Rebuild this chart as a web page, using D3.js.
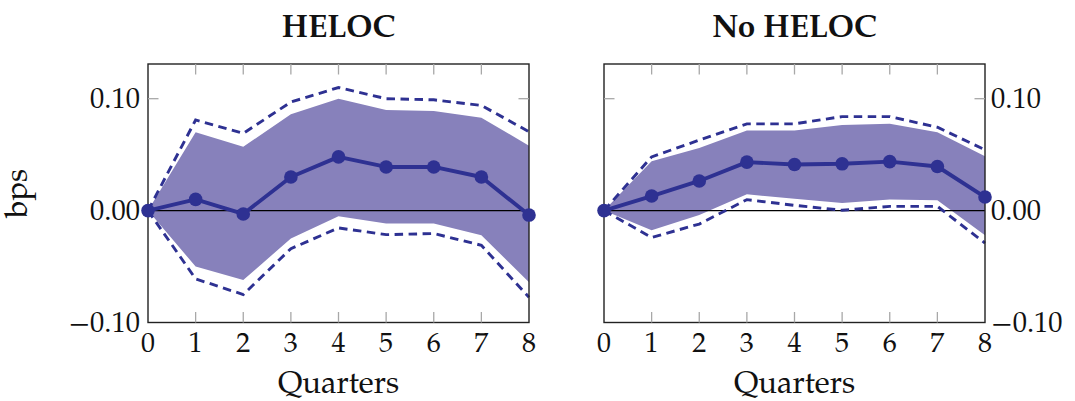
<!DOCTYPE html>
<html>
<head>
<meta charset="utf-8">
<script src="https://cdn.jsdelivr.net/npm/d3@7"></script>
<style>
    body { margin: 0; background: #fff; }
    svg { display: block; }
    text { font-family: "TeX Gyre Pagella", "Palatino Linotype", "Book Antiqua", Palatino, "Liberation Serif", serif; fill: #111; }
</style>
</head>
<body>
<div id="chart"></div>
<script>
// quarters after the shock
const quarters = [0, 1, 2, 3, 4, 5, 6, 7, 8];
const yTicks = [-0.10, 0.00, 0.10];

// HELOC panel
const helocIrf = [0, 0.010, -0.003, 0.030, 0.048, 0.039, 0.039, 0.030, -0.004];
const helocBandHi = [0, 0.070, 0.057, 0.086, 0.100, 0.090, 0.089, 0.083, 0.058];
const helocBandLo = [0, -0.050, -0.062, -0.025, -0.005, -0.0115, -0.0115, -0.022, -0.064];
const helocCiHi = [0, 0.081, 0.069, 0.097, 0.110, 0.100, 0.099, 0.094, 0.0705];
const helocCiLo = [0, -0.061, -0.075, -0.034, -0.0155, -0.0215, -0.0205, -0.031, -0.0775];

// No HELOC panel
const noHelocIrf = [0, 0.013, 0.0265, 0.0433, 0.0412, 0.0418, 0.0438, 0.0394, 0.0121];
const noHelocBandHi = [0, 0.044, 0.056, 0.0715, 0.0715, 0.0766, 0.0775, 0.070, 0.0486];
const noHelocBandLo = [0, -0.0175, -0.004, 0.0145, 0.0105, 0.0068, 0.010, 0.0092, -0.022];
const noHelocCiHi = [0, 0.048, 0.063, 0.0775, 0.0775, 0.084, 0.084, 0.0745, 0.0543];
const noHelocCiLo = [0, -0.024, -0.012, 0.0098, 0.0047, 0.0003, 0.0038, 0.0038, -0.029];

const lineColor = "#2e3192";
const bandColor = "#8781bb";

const width = 1075, height = 401;
const plotTop = 64, plotBottom = 322.5;

const svg = d3.select("#chart")
    .append("svg")
    .attr("width", width)
    .attr("height", height);

const y = d3.scaleLinear()
    .domain([-0.10, 0.131])
    .range([plotBottom, plotTop]);

const fmt = d3.format(".2f");
const tickLabel = (v) => (v < 0 ? "\u2212" + fmt(-v) : fmt(v));

function drawPanel(opts) {
    const x = d3.scaleLinear().domain([0, 8]).range([opts.left, opts.right]);
    const g = svg.append("g");
    const rows = quarters.map((q, i) => ({
        q: q,
        irf: opts.irf[i],
        bandHi: opts.bandHi[i],
        bandLo: opts.bandLo[i],
        ciHi: opts.ciHi[i],
        ciLo: opts.ciLo[i],
    }));

    // shaded band
    g.append("path")
        .datum(rows)
        .attr("fill", bandColor)
        .attr("d", d3.area()
            .x((d) => x(d.q))
            .y0((d) => y(d.bandLo))
            .y1((d) => y(d.bandHi)));

    // zero line
    g.append("line")
        .attr("x1", opts.left).attr("x2", opts.right)
        .attr("y1", y(0)).attr("y2", y(0))
        .attr("stroke", "#000")
        .attr("stroke-width", 1.2);

    // dashed bounds
    ["ciHi", "ciLo"].forEach((key) => {
        g.append("path")
            .datum(rows)
            .attr("fill", "none")
            .attr("stroke", lineColor)
            .attr("stroke-width", 2.9)
            .attr("stroke-dasharray", "8.5,5.5")
            .attr("d", d3.line().x((d) => x(d.q)).y((d) => y(d[key])));
    });

    // frame
    g.append("rect")
        .attr("x", opts.left).attr("y", plotTop)
        .attr("width", opts.right - opts.left)
        .attr("height", plotBottom - plotTop)
        .attr("fill", "none")
        .attr("stroke", "#222")
        .attr("stroke-width", 1.4);

    // ticks, pointing inward on all four sides
    const tickLen = 10.5;
    const tk = g.append("g").attr("stroke", "#a8a8a8").attr("stroke-width", 1.3);
    quarters.forEach((q) => {
        if (q === 0 || q === 8) return;
        tk.append("line").attr("x1", x(q)).attr("x2", x(q)).attr("y1", plotBottom).attr("y2", plotBottom - tickLen);
        tk.append("line").attr("x1", x(q)).attr("x2", x(q)).attr("y1", plotTop).attr("y2", plotTop + tickLen);
    });
    yTicks.forEach((v) => {
        if (v !== 0.10) return;
        tk.append("line").attr("x1", opts.left).attr("x2", opts.left + tickLen).attr("y1", y(v)).attr("y2", y(v));
        tk.append("line").attr("x1", opts.right).attr("x2", opts.right - tickLen).attr("y1", y(v)).attr("y2", y(v));
    });

    // main line and markers
    g.append("path")
        .datum(rows)
        .attr("fill", "none")
        .attr("stroke", lineColor)
        .attr("stroke-width", 3.9)
        .attr("stroke-linejoin", "round")
        .attr("d", d3.line().x((d) => x(d.q)).y((d) => y(d.irf)));

    g.selectAll("circle.pt")
        .data(rows)
        .enter()
        .append("circle")
        .attr("class", "pt")
        .attr("cx", (d) => x(d.q))
        .attr("cy", (d) => y(d.irf))
        .attr("r", 6.8)
        .attr("fill", lineColor);

    // x tick labels
    g.selectAll("text.xt")
        .data(quarters)
        .enter()
        .append("text")
        .attr("class", "xt")
        .attr("x", (d) => x(d))
        .attr("y", 352)
        .attr("text-anchor", "middle")
        .style("font-size", "28px")
        .text((d) => d);

    // y tick labels
    g.selectAll("text.yt")
        .data(yTicks)
        .enter()
        .append("text")
        .attr("class", "yt")
        .attr("x", opts.labelsRight ? opts.right + 6 : opts.left - 8)
        .attr("y", (d) => y(d) + 9.5)
        .attr("text-anchor", opts.labelsRight ? "start" : "end")
        .style("font-size", "28.5px")
        .text(tickLabel);

    // title
    g.append("text")
        .attr("x", (opts.left + opts.right) / 2)
        .attr("y", 37)
        .attr("text-anchor", "middle")
        .style("font-size", "31.5px")
        .style("font-weight", "bold")
        .text(opts.title);

    // x axis label
    g.append("text")
        .attr("x", (opts.left + opts.right) / 2)
        .attr("y", 393)
        .attr("text-anchor", "middle")
        .style("font-size", "31px")
        .text("Quarters");
}

drawPanel({
    title: "HELOC", left: 148, right: 529, labelsRight: false,
    irf: helocIrf, bandHi: helocBandHi, bandLo: helocBandLo, ciHi: helocCiHi, ciLo: helocCiLo,
});
drawPanel({
    title: "No HELOC", left: 604, right: 985, labelsRight: true,
    irf: noHelocIrf, bandHi: noHelocBandHi, bandLo: noHelocBandLo, ciHi: noHelocCiHi, ciLo: noHelocCiLo,
});

// y axis label
svg.append("text")
    .attr("transform", "translate(27," + ((plotTop + plotBottom) / 2) + ") rotate(-90)")
    .attr("text-anchor", "middle")
    .style("font-size", "31px")
    .text("bps");
</script>
</body>
</html>
